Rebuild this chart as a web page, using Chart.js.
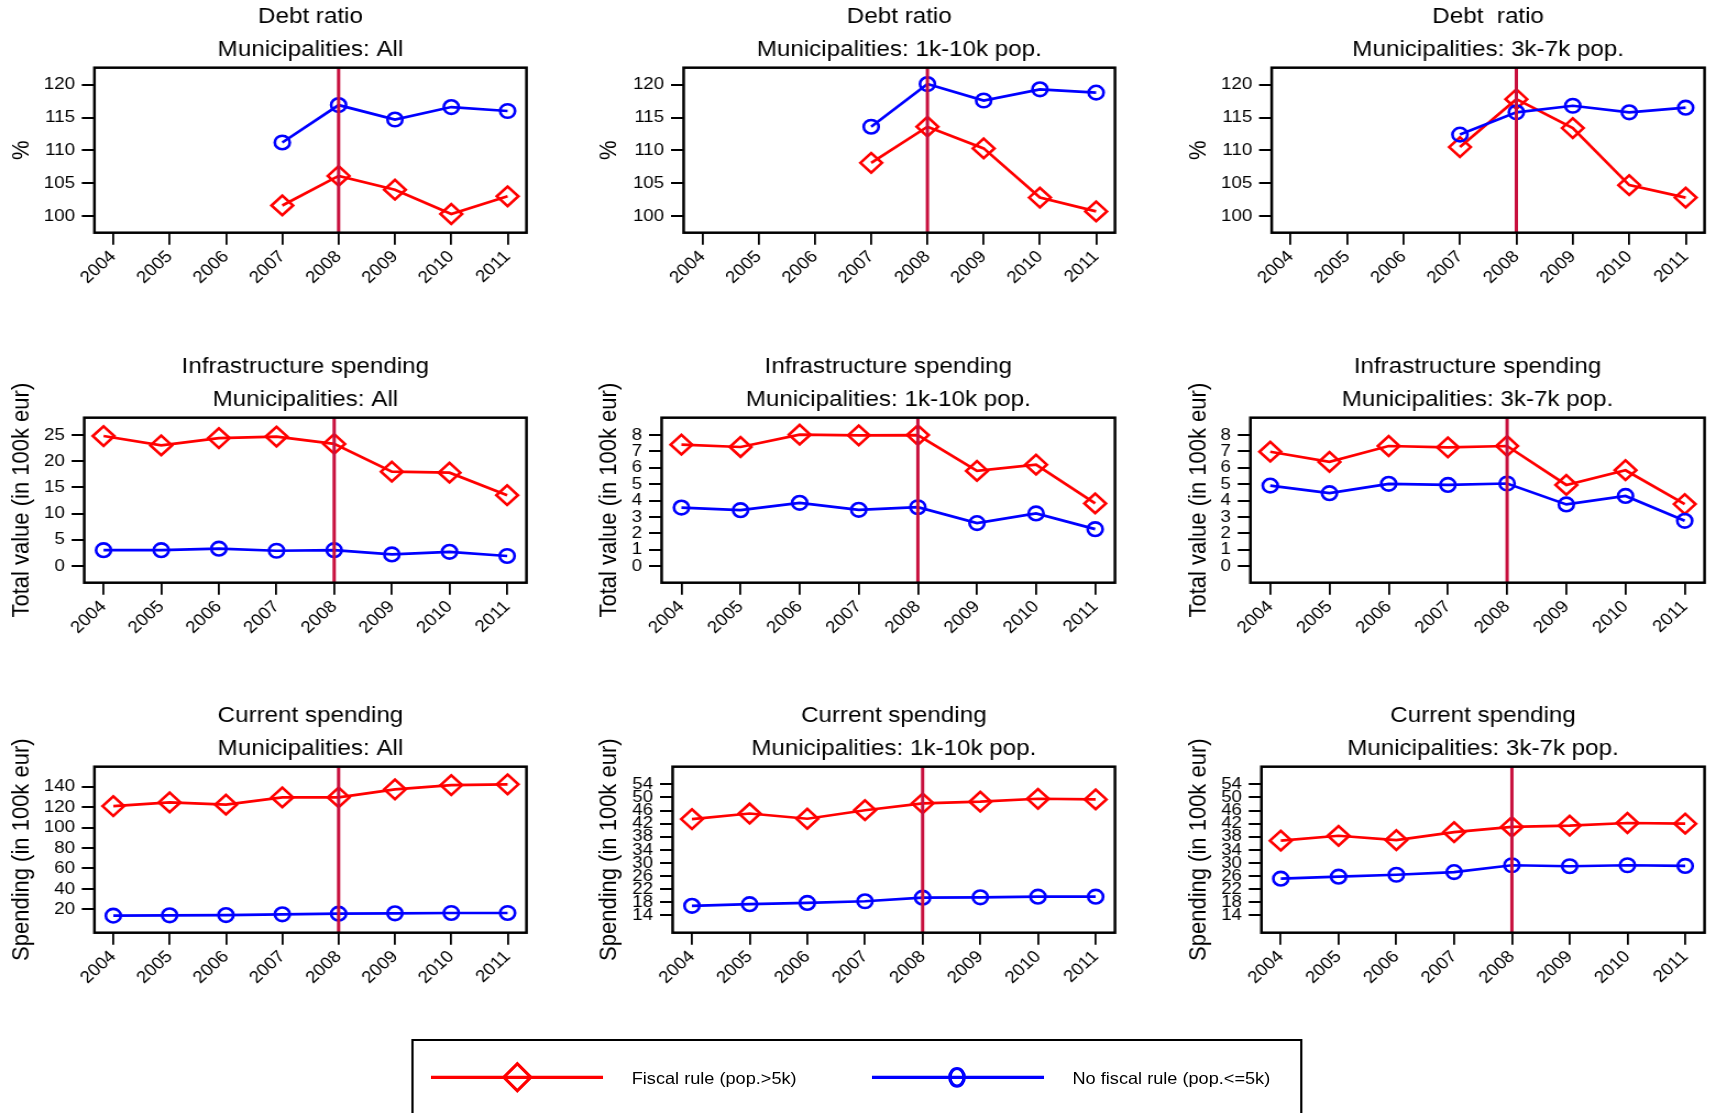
<!DOCTYPE html>
<html>
<head>
<meta charset="utf-8">
<title>Fiscal rule and municipal finances</title>
<script src="https://cdn.jsdelivr.net/npm/chart.js@4.4.0/dist/chart.umd.min.js"></script>
<style>
  html, body { margin: 0; padding: 0; background: #fff; overflow: hidden; width: 1714px; height: 1113px; }
  /* the original figure is stretched a bit horizontally, so the whole page is too */
  #page { position: absolute; left: 0; top: 0; width: 1559px; height: 1113px; transform: scaleX(1.1); transform-origin: 0 0; }
  #page canvas { position: absolute; }
  #legend { position: absolute; box-sizing: border-box; border: 2.6px solid #000; }
  .lg-text { position: absolute; font-family: "Liberation Sans", Arial, Helvetica, sans-serif; font-size: 16.5px; line-height: 20px; color: #000; white-space: nowrap; }
  #legend-marks { position: absolute; left: 0; top: 0; }
</style>
</head>
<body>
<div id="page"></div>
<script>
const years = [2004, 2005, 2006, 2007, 2008, 2009, 2010, 2011];
const policyYear = 2008;

const seriesLabels = ['Fiscal rule (pop.>5k)', 'No fiscal rule (pop.<=5k)'];
const groupTitles = ['Municipalities: All', 'Municipalities: 1k-10k pop.', 'Municipalities: 3k-7k pop.'];

// debt ratio (%), only from 2007 on
const debtRuleAll = [null, null, null, 101.6, 106.1, 104.0, 100.3, 103.0];
const debtNoRuleAll = [null, null, null, 111.2, 116.9, 114.7, 116.6, 116.0];
const debtRule1k10k = [null, null, null, 108.1, 113.6, 110.3, 102.8, 100.7];
const debtNoRule1k10k = [null, null, null, 113.6, 120.1, 117.6, 119.3, 118.8];
const debtRule3k7k = [null, null, null, 110.5, 117.8, 113.4, 104.7, 102.8];
const debtNoRule3k7k = [null, null, null, 112.4, 115.8, 116.8, 115.8, 116.5];

// infrastructure spending (100k eur)
const infraRuleAll = [24.8, 23.0, 24.4, 24.7, 23.3, 18.0, 17.8, 13.5];
const infraNoRuleAll = [3.0, 3.0, 3.3, 2.9, 3.0, 2.2, 2.7, 1.9];
const infraRule1k10k = [7.41, 7.27, 8.02, 7.98, 8.0, 5.81, 6.19, 3.82];
const infraNoRule1k10k = [3.57, 3.41, 3.86, 3.43, 3.59, 2.62, 3.21, 2.25];
const infraRule3k7k = [6.98, 6.36, 7.33, 7.25, 7.33, 4.95, 5.85, 3.78];
const infraNoRule3k7k = [4.91, 4.45, 5.02, 4.95, 5.04, 3.76, 4.28, 2.76];

// current spending (100k eur)
const currRuleAll = [121.0, 124.6, 122.4, 129.5, 129.5, 137.4, 141.6, 142.3];
const currNoRuleAll = [13.8, 14.1, 14.4, 15.1, 15.7, 16.1, 16.4, 16.4];
const currRule1k10k = [43.4, 45.1, 43.5, 46.1, 48.2, 48.7, 49.6, 49.4];
const currNoRule1k10k = [16.9, 17.4, 17.8, 18.3, 19.4, 19.5, 19.7, 19.7];
const currRule3k7k = [36.8, 38.3, 37.0, 39.4, 41.0, 41.4, 42.2, 42.0];
const currNoRule3k7k = [25.2, 25.8, 26.4, 27.2, 29.3, 29.0, 29.3, 29.1];

// tick labels
const debtTicks = [100, 105, 110, 115, 120];
const infraTicksAll = [0, 5, 10, 15, 20, 25];
const infraTicksSub = [0, 1, 2, 3, 4, 5, 6, 7, 8];
const currTicksAll = [20, 40, 60, 80, 100, 120, 140];
const currTicksSub = [14, 18, 22, 26, 30, 34, 38, 42, 46, 50, 54];

const panels = [
  { row: 0, col: 0, title: 'Debt ratio', yTitle: '%', rule: debtRuleAll, noRule: debtNoRuleAll, ticks: debtTicks, yMin: 97.45, yMax: 122.6 },
  { row: 0, col: 1, title: 'Debt ratio', yTitle: '%', rule: debtRule1k10k, noRule: debtNoRule1k10k, ticks: debtTicks, yMin: 97.45, yMax: 122.6 },
  { row: 0, col: 2, title: 'Debt  ratio', yTitle: '%', rule: debtRule3k7k, noRule: debtNoRule3k7k, ticks: debtTicks, yMin: 97.45, yMax: 122.6 },
  { row: 1, col: 0, title: 'Infrastructure spending', yTitle: 'Total value (in 100k eur)', rule: infraRuleAll, noRule: infraNoRuleAll, ticks: infraTicksAll, yMin: -3.2, yMax: 28.3 },
  { row: 1, col: 1, title: 'Infrastructure spending', yTitle: 'Total value (in 100k eur)', rule: infraRule1k10k, noRule: infraNoRule1k10k, ticks: infraTicksSub, yMin: -1.02, yMax: 9.06 },
  { row: 1, col: 2, title: 'Infrastructure spending', yTitle: 'Total value (in 100k eur)', rule: infraRule3k7k, noRule: infraNoRule3k7k, ticks: infraTicksSub, yMin: -1.02, yMax: 9.06 },
  { row: 2, col: 0, title: 'Current spending', yTitle: 'Spending (in 100k eur)', rule: currRuleAll, noRule: currNoRuleAll, ticks: currTicksAll, yMin: -2.9, yMax: 159.6 },
  { row: 2, col: 1, title: 'Current spending', yTitle: 'Spending (in 100k eur)', rule: currRule1k10k, noRule: currNoRule1k10k, ticks: currTicksSub, yMin: 8.7, yMax: 59.4 },
  { row: 2, col: 2, title: 'Current spending', yTitle: 'Spending (in 100k eur)', rule: currRule3k7k, noRule: currNoRule3k7k, ticks: currTicksSub, yMin: 8.7, yMax: 59.4 }
];

// layout, in screen px (before the horizontal stretch S is undone)
const S = 1.1;
const rowTop = [0, 350, 698.6];
const rowPlotBottom = [232.7, 582.7, 932.3];
const colYTitleX = [22.5, 610, 1199.5];
const colPlotRight = [531, 1119.4, 1708.6];
const plotLeft = [[94.7, 684, 1272], [84.5, 662, 1250.7], [94.7, 673, 1261.7]];

const FONT = '"Liberation Sans", Arial, Helvetica, sans-serif';
const RED = '#ff0000';
const BLUE = '#0000ff';
const BREAK_COLOR = '#c8103e';

const frame = {
  id: 'frame',
  afterDraw(chart) {
    const a = chart.chartArea;
    const ctx = chart.ctx;
    ctx.save();
    ctx.strokeStyle = '#000';
    ctx.lineWidth = 2.5;
    ctx.strokeRect(a.left, a.top, a.right - a.left, a.bottom - a.top);
    ctx.restore();
  }
};

const page = document.getElementById('page');

function toPoints(values) {
  return years.map((yr, i) => ({ x: yr, y: values[i] }));
}

panels.forEach(p => {
  const r = p.row, c = p.col;
  const L = colYTitleX[c] / S - 13.2;
  const W = Math.ceil(colPlotRight[c] / S + 8 - L);
  const H = 330;
  const yAxisWidth = plotLeft[r][c] / S - L;
  const padRight = L + W - colPlotRight[c] / S;
  const xAxisHeight = rowTop[r] + H - rowPlotBottom[r];

  const canvas = document.createElement('canvas');
  canvas.width = W;
  canvas.height = H;
  canvas.style.left = L + 'px';
  canvas.style.top = rowTop[r] + 'px';
  canvas.style.width = W + 'px';
  canvas.style.height = H + 'px';
  page.appendChild(canvas);

  new Chart(canvas.getContext('2d'), {
    type: 'line',
    data: {
      datasets: [
        {
          label: seriesLabels[0],
          data: toPoints(p.rule),
          borderColor: RED,
          borderWidth: 2.7,
          pointStyle: 'rectRot',
          pointRadius: 9.8,
          pointBorderWidth: 2.6,
          pointBorderColor: RED,
          pointBackgroundColor: 'rgba(0,0,0,0)',
          spanGaps: false,
          order: 3
        },
        {
          label: seriesLabels[1],
          data: toPoints(p.noRule),
          borderColor: BLUE,
          borderWidth: 2.7,
          pointStyle: 'circle',
          pointRadius: 6.8,
          pointBorderWidth: 2.6,
          pointBorderColor: BLUE,
          pointBackgroundColor: 'rgba(0,0,0,0)',
          spanGaps: false,
          order: 2
        },
        {
          label: 'rule',
          data: [{ x: policyYear, y: p.yMin }, { x: policyYear, y: p.yMax }],
          borderColor: BREAK_COLOR,
          borderWidth: 3,
          pointRadius: 0,
          order: 1
        }
      ]
    },
    options: {
      responsive: false,
      animation: false,
      events: [],
      layout: { padding: { left: 0, top: 0, bottom: 0, right: padRight } },
      plugins: {
        legend: { display: false },
        tooltip: { enabled: false },
        title: {
          display: true,
          fullSize: false,
          text: [p.title, groupTitles[c]],
          color: '#000',
          font: { family: FONT, size: 22, weight: 'normal', lineHeight: 1.486 },
          padding: { top: 1, bottom: 1.3 }
        }
      },
      scales: {
        x: {
          type: 'linear',
          min: 2003.665,
          max: 2011.335,
          afterBuildTicks: s => { s.ticks = years.map(v => ({ value: v })); },
          afterFit: s => { s.height = xAxisHeight; },
          border: { display: false },
          grid: { drawOnChartArea: false, drawTicks: true, tickLength: 12, color: '#000', lineWidth: 1.8 },
          ticks: {
            autoSkip: false,
            minRotation: 45,
            maxRotation: 45,
            padding: 2,
            color: '#000',
            font: { family: FONT, size: 17 },
            callback: v => String(v)
          }
        },
        y: {
          type: 'linear',
          min: p.yMin,
          max: p.yMax,
          afterBuildTicks: s => { s.ticks = p.ticks.map(v => ({ value: v })); },
          afterFit: s => { s.width = yAxisWidth; },
          border: { display: false },
          grid: { drawOnChartArea: false, drawTicks: true, tickLength: 11.5, color: '#000', lineWidth: 2 },
          ticks: {
            autoSkip: false,
            padding: 6.2,
            color: '#000',
            font: { family: FONT, size: 17 },
            callback: v => String(v)
          },
          title: {
            display: true,
            text: p.yTitle,
            color: '#000',
            font: { family: FONT, size: 22, lineHeight: 1.2 },
            padding: 0
          }
        }
      }
    },
    plugins: [frame]
  });
});

// shared legend under the panels
const legend = document.createElement('div');
legend.id = 'legend';
legend.style.left = '374.3px';
legend.style.top = '1039px';
legend.style.width = '809.3px';
legend.style.height = '140px';
page.appendChild(legend);

const NS = 'http://www.w3.org/2000/svg';
const svg = document.createElementNS(NS, 'svg');
svg.setAttribute('id', 'legend-marks');
svg.setAttribute('width', '1559');
svg.setAttribute('height', '1113');
page.appendChild(svg);

function svgEl(tag, attrs) {
  const el = document.createElementNS(NS, tag);
  Object.keys(attrs).forEach(k => el.setAttribute(k, attrs[k]));
  svg.appendChild(el);
  return el;
}

const legendY = 1077.3;
const legendItems = [
  { x1: 391.8, x2: 548.2, cx: 470.3, textX: 574.3, color: RED, marker: 'diamond' },
  { x1: 792.7, x2: 949.1, cx: 870.0, textX: 975.0, color: BLUE, marker: 'circle' }
];

legendItems.forEach((it, i) => {
  svgEl('line', { x1: it.x1, x2: it.x2, y1: legendY, y2: legendY, stroke: it.color, 'stroke-width': 3.3 });
  if (it.marker === 'diamond') {
    const hw = 12.3, hh = 13.5;
    svgEl('polygon', {
      points: [[it.cx - hw, legendY], [it.cx, legendY - hh], [it.cx + hw, legendY], [it.cx, legendY + hh]].map(q => q.join(',')).join(' '),
      fill: 'none', stroke: it.color, 'stroke-width': 3
    });
  } else {
    svgEl('ellipse', { cx: it.cx, cy: legendY, rx: 6.5, ry: 8.8, fill: 'none', stroke: it.color, 'stroke-width': 3.2 });
  }
  const t = document.createElement('div');
  t.className = 'lg-text';
  t.style.left = it.textX + 'px';
  t.style.top = (legendY + 0.7 - 10) + 'px';
  t.textContent = seriesLabels[i];
  page.appendChild(t);
});
</script>
</body>
</html>
